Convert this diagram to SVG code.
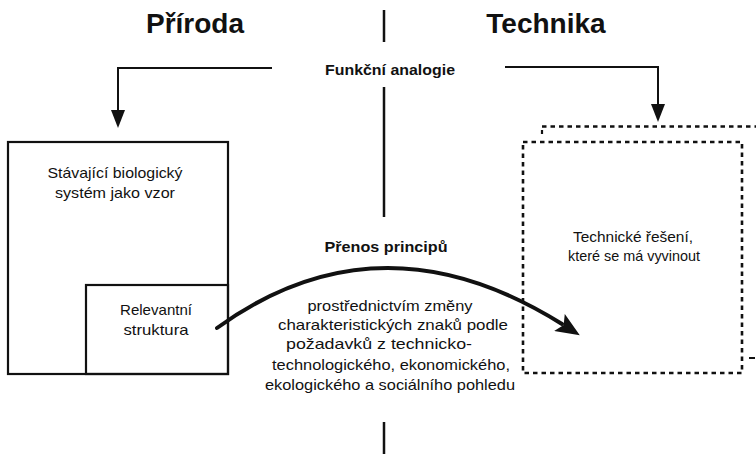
<svg xmlns="http://www.w3.org/2000/svg" width="756" height="454" viewBox="0 0 756 454">
<style>
text{font-family:"Liberation Sans",Arial,sans-serif;fill:#111;text-anchor:middle}
.title{font-size:28px;font-weight:bold}
.lbl{font-size:15px;font-weight:bold}
.t{font-size:14.5px}
.line{stroke:#111;fill:none;stroke-width:2}
.dash{stroke:#111;fill:none;stroke-width:2.6;stroke-dasharray:4.5 4}
</style>
<defs>
<marker id="ah" markerUnits="userSpaceOnUse" markerWidth="18" markerHeight="14" refX="0" refY="7" orient="auto">
<path d="M0,0 L18,7 L0,14 z" fill="#111"/>
</marker>
<marker id="ah2" markerUnits="userSpaceOnUse" markerWidth="24" markerHeight="20" refX="3" refY="10" orient="auto">
<path d="M0,0 L24,10 L0,20 L5,10 z" fill="#111"/>
</marker>
</defs>
<rect width="756" height="454" fill="#fff"/>
<g id="titles">
<text class="title" x="195" y="33">Příroda</text>
<text class="title" x="546" y="33">Technika</text>
</g>
<g id="divider">
<path class="line" style="stroke-width:2.5" d="M384,10 V42 M384,87 V217 M384,422 V454"/>
</g>
<g id="analogy-label">
<text class="lbl" x="390" y="75" textLength="130" lengthAdjust="spacingAndGlyphs">Funkční analogie</text>
</g>
<g id="nature-system">
<rect x="8" y="142" width="220" height="232" fill="none" stroke="#111" stroke-width="2.2"/>
<text class="t" x="115" y="178" textLength="135" lengthAdjust="spacingAndGlyphs">Stávající biologický</text>
<text class="t" x="115" y="198" textLength="120" lengthAdjust="spacingAndGlyphs">systém jako vzor</text>
</g>
<g id="relevant-structure">
<rect x="86" y="285" width="142" height="89" fill="none" stroke="#111" stroke-width="2.2"/>
<text class="t" x="156" y="315" textLength="72" lengthAdjust="spacingAndGlyphs">Relevantní</text>
<text class="t" x="156" y="335" textLength="65" lengthAdjust="spacingAndGlyphs">struktura</text>
</g>
<g id="technical-solution">
<path class="dash" d="M542,126.5 H756"/>
<path stroke="#111" stroke-width="2.2" d="M542,130 V134"/>
<path stroke="#111" stroke-width="2" d="M749,358 H755"/>
<rect class="dash" x="523" y="142" width="219" height="231"/>
<text class="t" x="633" y="242" textLength="120" lengthAdjust="spacingAndGlyphs">Technické řešení,</text>
<text class="t" x="634" y="261" textLength="132" lengthAdjust="spacingAndGlyphs">které se má vyvinout</text>
</g>
<g id="transfer-label">
<text class="lbl" x="386" y="252" textLength="123" lengthAdjust="spacingAndGlyphs">Přenos principů</text>
<text class="t" x="390" y="311" textLength="165" lengthAdjust="spacingAndGlyphs">prostřednictvím změny</text>
<text class="t" x="393" y="330" textLength="230" lengthAdjust="spacingAndGlyphs">charakteristických znaků podle</text>
<text class="t" x="379" y="349" textLength="186" lengthAdjust="spacingAndGlyphs">požadavků z technicko-</text>
<text class="t" x="391" y="370" textLength="238" lengthAdjust="spacingAndGlyphs">technologického, ekonomického,</text>
<text class="t" x="390" y="390" textLength="250" lengthAdjust="spacingAndGlyphs">ekologického a sociálního pohledu</text>
</g>
<g id="connectors">
<path class="line" d="M272,68 H118 V110" marker-end="url(#ah)"/>
<path class="line" d="M505,67 H658 V104" marker-end="url(#ah)"/>
<path class="line" style="stroke-width:4;stroke-linecap:round" d="M217,328 Q380,210 562,324" marker-end="url(#ah2)"/>
</g>
</svg>
